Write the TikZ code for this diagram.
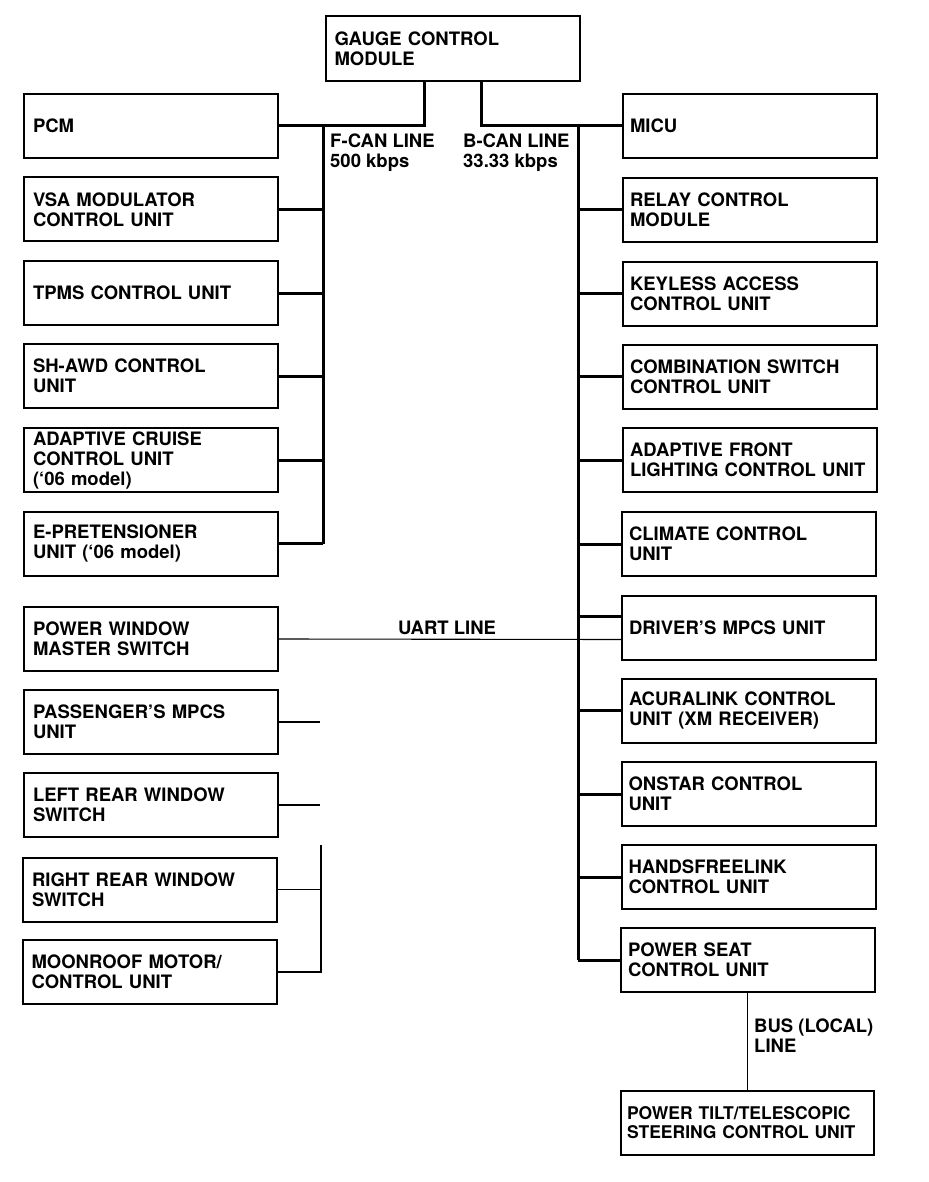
\documentclass[tikz,border=0pt]{standalone}
\usepackage{fontspec}
\setmainfont{TeX Gyre Heros}
\begin{document}
\begin{tikzpicture}[x=1pt,y=-1pt,
  lbl/.style={font=\fontsize{18.5}{20}\selectfont\bfseries, align=left, inner sep=0pt},
  unitbox/.style={draw, line width=2pt, minimum height=64pt, text width=236pt, inner xsep=9pt, inner ysep=0pt, align=left, font=\fontsize{18.5}{20}\selectfont\bfseries},
  rbox/.style={unitbox, text width=240pt, inner xsep=7pt},
  bus/.style={line width=3pt},
  thinline/.style={line width=1.1pt}]
\useasboundingbox[fill=white] (0,0) rectangle (928,1182);
% gauge
\node[unitbox, minimum height=65pt] (gcm) at (452.5,48.5) {GAUGE CONTROL\\MODULE};
% left column
\node[unitbox] (pcm)  at (151,126)   {PCM};
\node[unitbox] (vsa)  at (151,209.5) {VSA MODULATOR\\CONTROL UNIT};
\node[unitbox] (tpms) at (151,293)   {TPMS CONTROL UNIT};
\node[unitbox] (awd)  at (151,376)   {SH-AWD CONTROL\\UNIT};
\node[unitbox] (acc)  at (151,460)   {ADAPTIVE CRUISE\\CONTROL UNIT\\(‘06 model)};
\node[unitbox] (epre) at (151,543.5) {E-PRETENSIONER\\UNIT (‘06 model)};
\node[unitbox] (pww)  at (151,639)   {POWER WINDOW\\MASTER SWITCH};
\node[unitbox] (pass) at (151,722)   {PASSENGER’S MPCS\\UNIT};
\node[unitbox] (lrw)  at (151,805)   {LEFT REAR WINDOW\\SWITCH};
\node[unitbox] (rrw)  at (150,889.5) {RIGHT REAR WINDOW\\SWITCH};
\node[unitbox] (moon) at (149.5,972) {MOONROOF MOTOR/\\CONTROL UNIT};
% right column
\node[rbox] (micu)  at (750,126)   {MICU};
\node[rbox] (relay) at (750,210)   {RELAY CONTROL\\MODULE};
\node[rbox] (key)   at (750,293.5) {KEYLESS ACCESS\\CONTROL UNIT};
\node[rbox] (comb)  at (750,376.5) {COMBINATION SWITCH\\CONTROL UNIT};
\node[rbox] (afl)   at (750,460)   {ADAPTIVE FRONT\\LIGHTING~CONTROL~UNIT};
\node[rbox] (clim)  at (749,544)   {CLIMATE CONTROL\\UNIT};
\node[rbox] (drv)   at (749,627.5) {DRIVER’S MPCS UNIT};
\node[rbox] (acura) at (749,710.5) {ACURALINK CONTROL\\UNIT (XM RECEIVER)};
\node[rbox] (onstar) at (748.5,794) {ONSTAR CONTROL\\UNIT};
\node[rbox] (hfl)   at (748.5,877) {HANDSFREELINK\\CONTROL UNIT};
\node[rbox] (seat)  at (748,960)   {POWER SEAT\\CONTROL UNIT};
\node[rbox, inner xsep=6pt, text width=241pt, font=\fontsize{17.5}{19}\selectfont\bfseries] (tilt) at (747.5,1122.5) {POWER~TILT/TELESCOPIC\\STEERING~CONTROL~UNIT};
% labels
\node[lbl, anchor=north west] (fcan) at (330,134) {F-CAN LINE\\500 kbps};
\node[lbl, anchor=north west] (bcan) at (463,134) {B-CAN LINE\\33.33 kbps};
\node[lbl] (uart) at (447,628) {UART LINE};
\node[lbl, anchor=north west] (busl) at (754,1019) {BUS (LOCAL)\\LINE};
% coordinates
\coordinate (fx) at (424,0);
\coordinate (fv) at (323,0);
\coordinate (bx) at (481,0);
\coordinate (bv) at (578,0);
\coordinate (pe) at (320,722);
\coordinate (le) at (320,805);
\coordinate (brtop) at (321,845);
% F-CAN
\draw[bus] (gcm.south -| fx) |- (pcm.east);
\draw[bus] (fv |- pcm.east) -- (fv |- epre.east);
\foreach \n in {vsa,tpms,awd,acc,epre} \draw[bus] (\n.east) -- (\n.east -| fv);
% B-CAN
\draw[bus] (gcm.south -| bx) |- (micu.west);
\draw[bus] (bv |- micu.west) -- (bv |- seat.west);
\foreach \n in {relay,key,comb,afl,clim,acura,onstar,hfl,seat} \draw[bus] (\n.west) -- (\n.west -| bv);
\draw[bus] ([yshift=11pt]drv.west) -- ([yshift=11pt]drv.west -| bv);
% UART and local lines
\draw[thinline] (pww.east) -- ([yshift=-12pt]drv.west);
\draw[thinline] (pass.east) -- (pe);
\draw[thinline] (lrw.east) -- (le);
\draw[thinline] (rrw.east) -- (rrw.east -| brtop);
\draw[thinline] (moon.east) -| (brtop);
\draw[thinline] (tilt.north |- seat.south) -- (tilt.north);
\end{tikzpicture}
\end{document}
